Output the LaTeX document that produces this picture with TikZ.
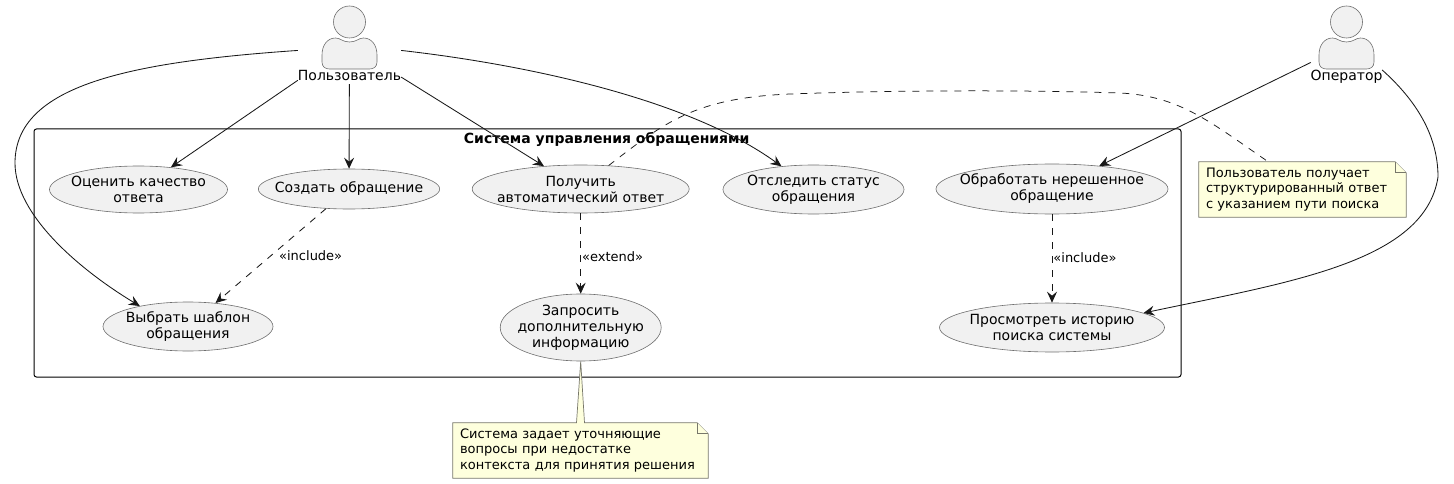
\documentclass[tikz,border=0pt]{standalone}
\usepackage{fontspec}
\setmainfont{DejaVu Sans}
\usetikzlibrary{arrows.meta,positioning,shapes.geometric,backgrounds}
\definecolor{umlink}{HTML}{181818}
\definecolor{umledge}{HTML}{6E6E6E}
\definecolor{noteedge}{HTML}{77776A}
\definecolor{umlfill}{HTML}{F1F1F1}
\definecolor{notefill}{HTML}{FEFFDD}
\tikzset{small/.style={font=\fontsize{14}{16}\selectfont},
usecase/.style={draw=umledge,line width=.6pt,ellipse,fill=umlfill,align=center,inner sep=-10pt},
actorbox/.style={rectangle,inner sep=0pt,minimum height=78pt},
actorlabel/.style={inner sep=0pt,text depth=3pt},
umlshape/.style={draw=umledge,line width=.6pt,fill=umlfill},
noteline/.style={draw=noteedge,line width=.7pt,fill=notefill},
notetext/.style={font=\fontsize{13}{15.5}\selectfont,align=left,inner xsep=7pt,inner ysep=0pt},
arrow/.style={-{Stealth[length=11pt,width=10pt,inset=4pt]},draw=umlink,line width=.85pt},
deparrow/.style={arrow,dash pattern=on 7pt off 7pt},
notelink/.style={draw=umlink,line width=.75pt,dash pattern=on 7pt off 7pt},
edgelabel/.style={font=\fontsize{13}{15}\selectfont,inner sep=0pt,anchor=west},
actorfig/.pic={\draw[umlshape] (0,-23) circle [radius=16];
\draw[umlshape] (-27.5,10) .. controls (-27.5,0) and (-22,-7) .. (-14,-7) .. controls (-9,-7) and (-7,-3) .. (0,-3) .. controls (7,-3) and (9,-7) .. (14,-7) .. controls (22,-7) and (27.5,0) .. (27.5,10) -- (27.5,17) .. controls (27.5,22) and (24,24) .. (20,24) -- (-20,24) .. controls (-24,24) and (-27.5,22) .. (-27.5,17) -- cycle;}}
\begin{document}
\begin{tikzpicture}[x=1pt,y=-1pt,small]
\useasboundingbox (0,0) rectangle (1454,484);
\begin{scope}[on background layer]
\node[draw=black,line width=1pt,rounded corners=2.5pt,minimum width=1147pt,minimum height=248pt] (system) at (607.5,253) {};
\end{scope}
\node[font=\fontsize{14}{16}\selectfont\bfseries] (systitle) at (606.7,139) {Система управления обращениями};
% actors
\node[actorbox,minimum width=103pt] (user) at (349.5,45) {};
\pic at (user) {actorfig};
\node[actorlabel,above=0pt of user.south] (userlabel) {Пользователь};
\node[actorbox,minimum width=71pt] (operator) at (1346.5,45) {};
\pic at (operator) {actorfig};
\node[actorlabel,above=0pt of operator.south] (oplabel) {Оператор};
% use cases
\node[usecase,minimum width=178pt,minimum height=47pt] (rate) at (138.5,189.5) {Оценить качество\\ответа};
\node[usecase,minimum width=176pt,minimum height=40pt] (create) at (349,189) {Создать обращение};
\node[usecase,minimum width=217pt,minimum height=48pt] (answer) at (580.7,189) {Получить\\автоматический ответ};
\node[usecase,minimum width=181pt,minimum height=49pt] (track) at (813.5,189.5) {Отследить статус\\обращения};
\node[usecase,minimum width=226pt,minimum height=50pt] (handle) at (1052,189) {Обработать нерешенное\\обращение};
\node[usecase,minimum width=170pt,minimum height=49pt] (pick) at (188,326.5) {Выбрать шаблон\\обращения};
\node[usecase,minimum width=161pt,minimum height=67pt] (ask) at (580.7,327.5) {Запросить\\дополнительную\\информацию};
\node[usecase,minimum width=225pt,minimum height=49pt] (history) at (1052,327.5) {Просмотреть историю\\поиска системы};
% notes
\node[notetext,text width=193pt,minimum height=55pt] (usernote) at (1302.5,189.5) {Пользователь получает\\структурированный ответ\\с указанием пути поиска};
\node[notetext,text width=241pt,minimum height=55pt] (asknote) at (580.5,450.5) {Система задает уточняющие\\вопросы при недостатке\\контекста для принятия решения};
\begin{scope}[on background layer]
\draw[noteline] (usernote.south west) -- (usernote.north west) -- ([xshift=-11pt]usernote.north east) -- ([yshift=-11pt]usernote.north east) -- (usernote.south east) -- cycle;
\draw[noteline] ([xshift=-11pt]usernote.north east) -- ([xshift=-11pt,yshift=-11pt]usernote.north east) -- ([yshift=-11pt]usernote.north east);
\draw[noteline] (asknote.south west) -- (asknote.north west) -- ([xshift=-4pt]asknote.north) -- (ask.south) -- ([xshift=4pt]asknote.north) -- ([xshift=-11pt]asknote.north east) -- ([yshift=-11pt]asknote.north east) -- (asknote.south east) -- cycle;
\draw[noteline] ([xshift=-11pt]asknote.north east) -- ([xshift=-11pt,yshift=-11pt]asknote.north east) -- ([yshift=-11pt]asknote.north east);
\end{scope}
% connectors
\draw[arrow] (user)--(rate); \draw[arrow] (user)--(create); \draw[arrow] (user)--(answer); \draw[arrow] (operator)--(handle);
\draw[arrow] (user.186) .. controls (130,62) and (15,85) .. (15,163) .. controls (15,215) and (80,270) .. (pick.157);
\draw[arrow] (user.-6) .. controls (530,65) and (690,100) .. (track);
\draw[arrow] (operator.-35) .. controls (1410,95) and (1438,130) .. (1438,177) .. controls (1425,262) and (1290,282) .. (history.9);
\draw[deparrow] (create)-- node[edgelabel,xshift=8pt] (inclabela) {«include»} (pick);
\draw[deparrow] (answer)-- node[edgelabel,pos=.54,xshift=1pt] (extlabel) {«extend»} (ask);
\draw[deparrow] (handle)-- node[edgelabel,pos=.49,xshift=1pt] (inclabelb) {«include»} (history);
\draw[notelink] (answer.40) .. controls (665,122) and (695,98) .. (790,94) .. controls (900,90) and (1030,90) .. (1120,93) .. controls (1180,96) and (1210,122) .. (usernote.141);
\end{tikzpicture}
\end{document}
